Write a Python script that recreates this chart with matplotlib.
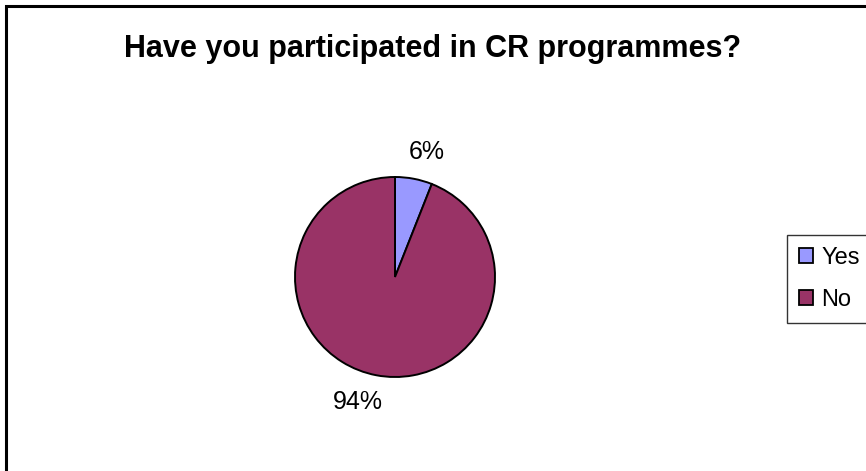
import matplotlib.pyplot as plt
from matplotlib.patches import Rectangle

labels = ["Yes", "No"]
values = [6, 94]
colors = ["#9999FF", "#993366"]

plt.rcParams["font.family"] = ["Liberation Sans", "DejaVu Sans"]

fig = plt.figure(figsize=(8.66, 4.71), dpi=100)

# chart area border (runs off the right and bottom edges)
fig.patches.append(Rectangle((6 / 866, -0.1), 1.2, (471 - 6) / 471 + 0.1,
                             transform=fig.transFigure, fill=False,
                             edgecolor="black", linewidth=2.2))

fig.text(0.5, 1 - 57 / 471, "Have you participated in CR programmes?",
         ha="center", va="baseline", fontsize=22, fontweight="bold")

ax = fig.add_axes([295 / 866, (471 - 377) / 471, 200 / 866, 200 / 471])
wedges, _, autotexts = ax.pie(
    values, colors=colors, startangle=90, counterclock=False,
    autopct=lambda p: f"{p:.0f}%", pctdistance=1.27,
    wedgeprops=dict(edgecolor="black", linewidth=1.4),
    textprops=dict(fontsize=18),
)
# nudge the percentage labels sideways, away from the pie
for t in autotexts:
    x, y = t.get_position()
    t.set_position((x + (0.08 if x > 0 else -0.13), y))
ax.set_xlim(-1, 1)
ax.set_ylim(-1, 1)

leg = fig.legend(wedges, labels, loc="upper left",
                 bbox_to_anchor=(787 / 866, 1 - 235 / 471),
                 fontsize=17, frameon=True, fancybox=False,
                 handlelength=0.6, handleheight=0.6, handletextpad=0.36,
                 borderpad=0.5, labelspacing=0.85, borderaxespad=0)
leg.get_frame().set_edgecolor("black")
leg.get_frame().set_linewidth(1.0)
for h in leg.legend_handles:
    h.set_edgecolor("black")
    h.set_linewidth(1.3)

fig.savefig("out.png", dpi=100)
